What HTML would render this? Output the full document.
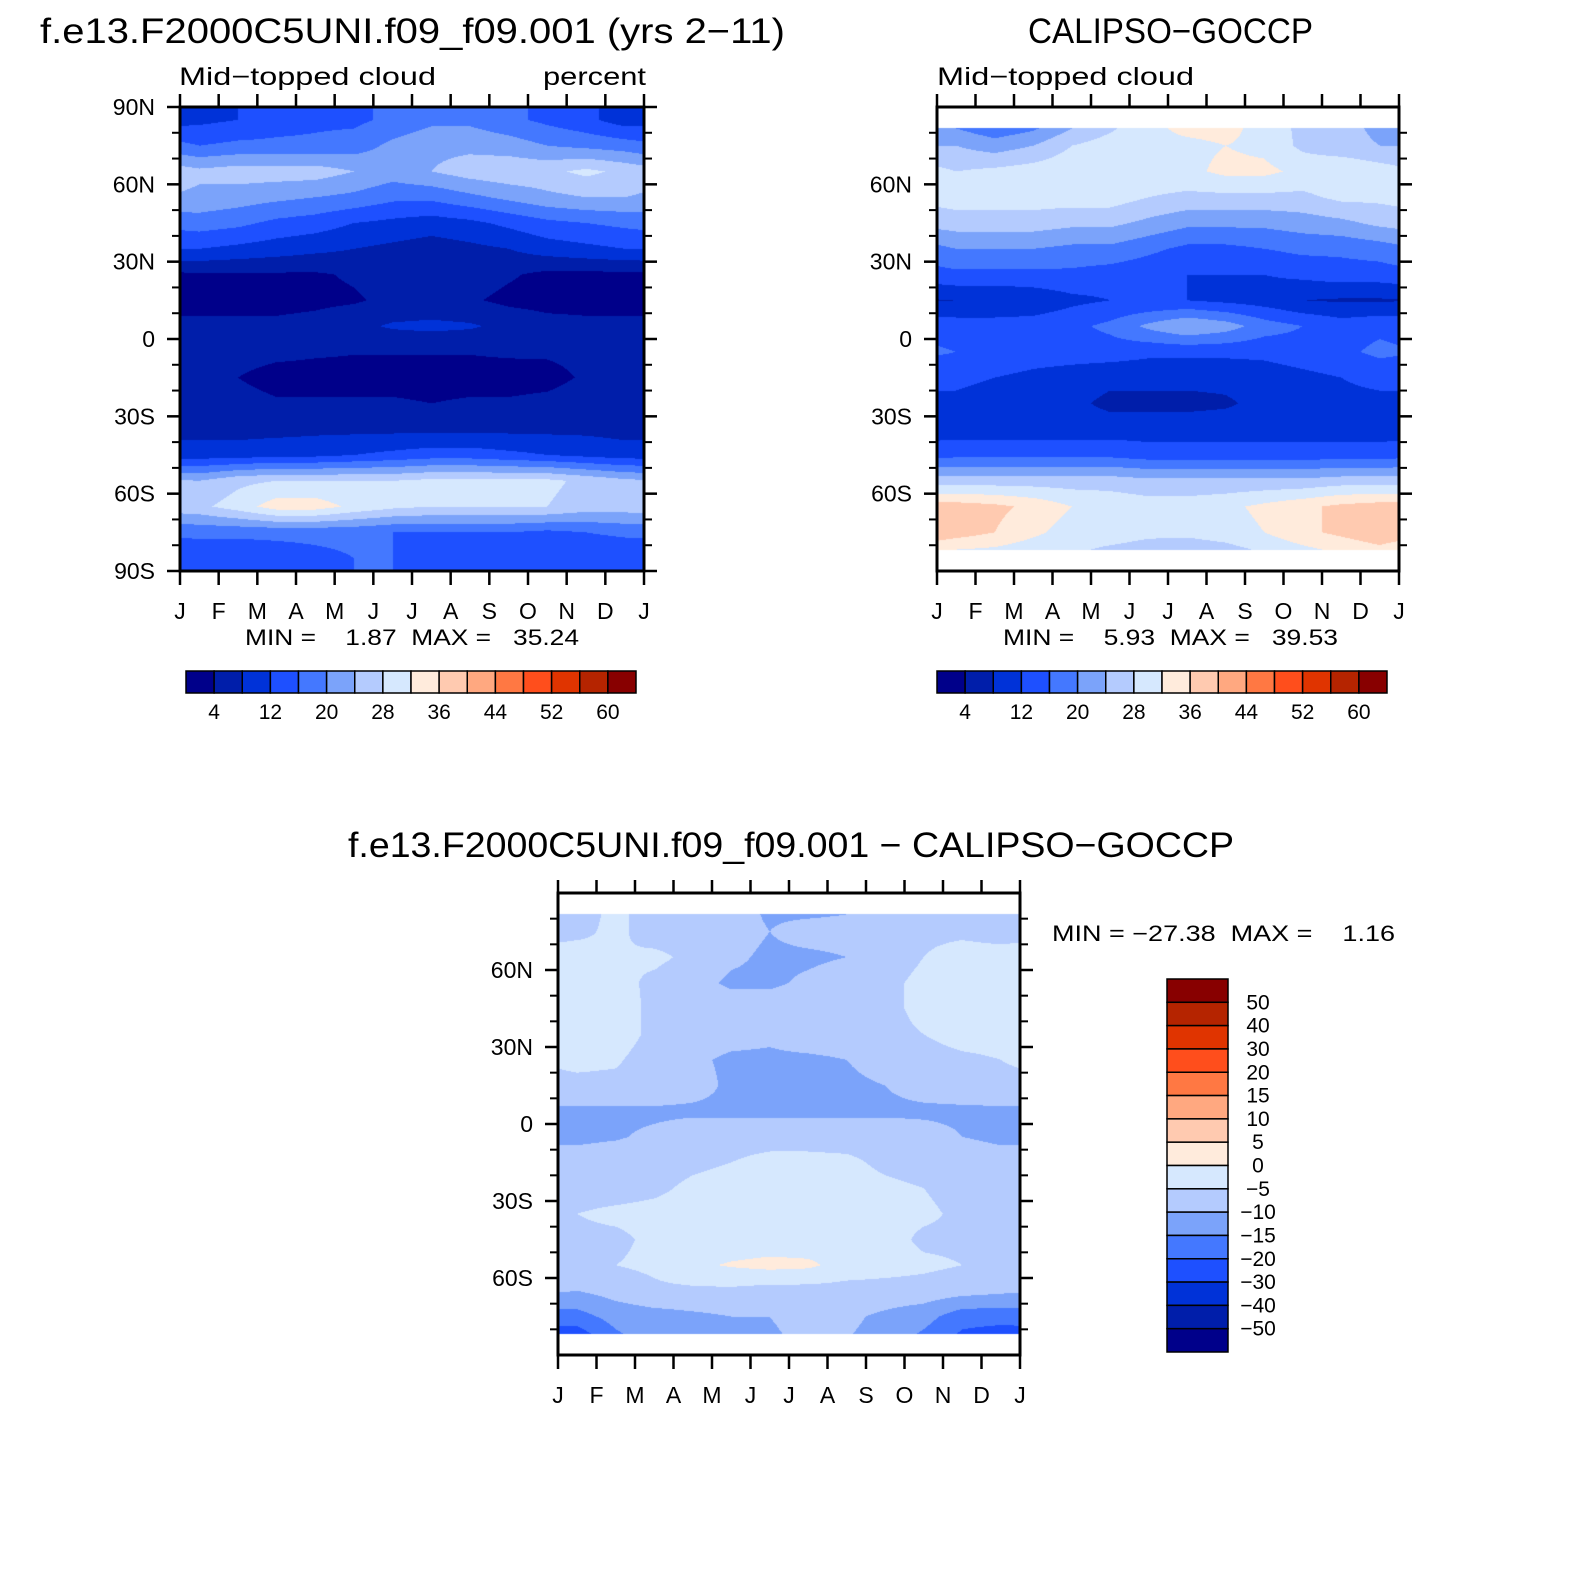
<!DOCTYPE html>
<html><head><meta charset="utf-8">
<style>
html,body{margin:0;padding:0;background:#fff;}
#wrap{position:relative;width:1580px;height:1580px;overflow:hidden;background:#fff;}
canvas{position:absolute;}
svg{position:absolute;left:0;top:0;}
text{font-family:"Liberation Sans",sans-serif;fill:#000;}
</style></head>
<body>
<div id="wrap">
<canvas id="c1"></canvas>
<canvas id="c2"></canvas>
<canvas id="c3"></canvas>
<svg id="ov" width="1580" height="1580">
<text x="40" y="43" font-size="35" textLength="745" lengthAdjust="spacingAndGlyphs">f.e13.F2000C5UNI.f09_f09.001 (yrs 2−11)</text>
<text x="179" y="85" font-size="25" textLength="257" lengthAdjust="spacingAndGlyphs">Mid−topped cloud</text>
<text x="543" y="85" font-size="25" textLength="103" lengthAdjust="spacingAndGlyphs">percent</text>
<text x="1028" y="43" font-size="35" textLength="285" lengthAdjust="spacingAndGlyphs">CALIPSO−GOCCP</text>
<text x="937" y="85" font-size="25" textLength="257" lengthAdjust="spacingAndGlyphs">Mid−topped cloud</text>
<text x="348" y="857" font-size="35" textLength="886" lengthAdjust="spacingAndGlyphs">f.e13.F2000C5UNI.f09_f09.001 − CALIPSO−GOCCP</text>
<text x="245" y="645" font-size="22" textLength="334" lengthAdjust="spacingAndGlyphs" xml:space="preserve">MIN =    1.87  MAX =   35.24</text>
<text x="1003" y="645" font-size="22" textLength="335" lengthAdjust="spacingAndGlyphs" xml:space="preserve">MIN =    5.93  MAX =   39.53</text>
<text x="1052" y="941" font-size="22" textLength="343" lengthAdjust="spacingAndGlyphs" xml:space="preserve">MIN = −27.38  MAX =    1.16</text>
</svg>
</div>
<script>
const months = ['J','F','M','A','M','J','J','A','S','O','N','D','J'];
const rowLats = [85,75,65,55,45,35,25,15,5,-5,-15,-25,-35,-45,-55,-65,-75,-85];
const absLevels = [4,8,12,16,20,24,28,32,36,40,44,48,52,56,60];
const absTickLabels = ['4','12','20','28','36','44','52','60'];
const diffLevels = [-50,-40,-30,-20,-15,-10,-5,0,5,10,15,20,30,40,50];
const diffTickLabels = ['50','40','30','20','15','10','5','0','−5','−10','−15','−20','−30','−40','−50'];
const palette = ['#00008A','#001EAA','#0032D8','#1E50FF','#4478FF','#7BA3FA','#B4CBFE','#D6E8FE','#FFEBDC','#FFCAB0','#FFA880','#FF7843','#FF4E1C','#E03400','#B52400','#880000'];

const modelValues = [
[11,12,14,15,15,17,19,19,17,15,13,10],
[16,17,17,17,18,21,23,23,22,20,19,18],
[25,26,26,26,24,22,24,26,27,27,29,27],
[23,22,21,20,19,17,17,19,21,23,24,24],
[18,17,15,14,12,11,10,11,13,15,16,17],
[12,11,10,9,8,7,6,7,8,10,11,12],
[3.5,3.5,3.5,3.5,4.5,6,6.5,6,4.5,3,3,3],
[2.5,2.5,2.5,3,3.5,5,5,4.5,3,2.5,2.5,2.5],
[5,5,5,5.5,7,8.5,9,8.5,7,5.5,5,5],
[5.5,5.5,5,4.5,4.2,4.2,4.2,4.2,4.5,4.5,5,5.5],
[4.5,4,2.5,2.5,2.5,2.5,2.5,2.5,2.5,2.8,4.5,5],
[6,5.5,4.5,4.5,4.5,4.5,4,4.5,4.5,5,6,6],
[6.5,6.5,6.5,7,7,7,7,7,7,7,7,6.5],
[10,10,11,11,12,13,14,14,13,12,11,10],
[24,27,28,28,28,28,29,29,29,29,27,25],
[27,30,34,34,31,29,28,28,28,28,26,26],
[17,17,17,17,17,16,16,16,16,15,16,17],
[13,13,14,15,16,16,15,14,13,12,12,12]
];
const obsValues = [
[18,15,17,22,26,31,34,34,30,27,25,23],
[24,22,24,28,30,31,31,32,31,27,25,24],
[28,29,30,31,31,31,31,33,33,31,32,30],
[30,30,30,30,30,28,27,27,27,27,29,29],
[26,26,26,25,25,23,21,21,21,22,23,25],
[20,20,20,19,19,17,15,15,16,17,17,18],
[15,15,15,15,14,13,12,12,12,13,14,14],
[8,8,9,11,12,12,12,11,10,8,7.5,7.5],
[14,14,14,15,17,21,24,22,18,16,14,15],
[16,15,14,14,14,13,13,13,13,14,15,17],
[13,12,11,10,9,9,9,9,10,11,12,13],
[11,10,10,9,7,7,7,7.5,9,10,11,11],
[10,10,10,10,10,10,10,10,10,10,10,10],
[15,15,15,15,15,14,14,14,14,14,14,14],
[26,26,26,26,26,25,25,25,25,25,26,26],
[38,37,35,32,31,30,30,31,33,35,37,38],
[38,36,33,30,30,29,29,30,32,35,37,39],
[29,29,28,28,26,25,24,25,27,29,31,33]
];
const diffValues = [
[-7,-4,-7,-7,-8,-11,-12,-11,-8,-7,-7,-9],
[-6,-4,-7,-7,-8,-10,-8,-8,-7,-6,-6,-7],
[-3,-5,-4,-6,-9,-11,-11,-10,-7,-5,-3,-3],
[-3,-3.5,-6,-8,-11,-11,-9,-7,-6,-4,-3,-3],
[-3,-3,-6,-7,-7,-7,-7,-7,-6,-4,-3,-3],
[-3,-3,-6,-7,-8,-9,-7,-7,-6,-5,-3,-3],
[-4,-4.5,-7,-9,-11,-11,-11,-10,-8,-7,-6,-5],
[-6,-6,-6,-8,-11,-11,-11,-11,-10,-8,-7,-6],
[-11,-11,-11,-11,-11,-11,-11,-11,-11,-11,-11,-11],
[-11,-10.5,-9,-7,-7,-7,-7,-7,-7,-8,-10,-11],
[-8,-7,-7,-6,-5,-3.5,-3.5,-4,-6,-7,-7,-8],
[-7,-7,-6,-4,-3,-3,-3,-3,-4,-5,-7,-7],
[-5,-4,-3.5,-3,-3,-3,-3,-3,-3.5,-4,-6,-6],
[-6,-6,-4,-3,-3,-3,-3,-3,-3,-6,-6,-6],
[-7,-5,-4,-1,0.5,1.5,1,-2,-3,-4,-5,-5],
[-10,-8,-6,-6,-6,-7,-7,-7,-7,-7,-8,-9],
[-17,-13,-12,-11,-10,-10,-8,-9,-11,-13,-18,-18],
[-25,-17,-12,-11,-11,-11,-9,-10,-12,-17,-22,-24]
];

const NS = 'http://www.w3.org/2000/svg';
const ov = document.getElementById('ov');
function mk(tag, attrs, parent){
  const e = document.createElementNS(NS, tag);
  for (const k in attrs) e.setAttribute(k, attrs[k]);
  (parent||ov).appendChild(e);
  return e;
}
function levelIndex(v, levels){ let i=0; while(i<levels.length && v>=levels[i]) i++; return i; }
function hexRgb(h){ return [parseInt(h.substr(1,2),16),parseInt(h.substr(3,2),16),parseInt(h.substr(5,2),16)]; }
const rgbPal = palette.map(hexRgb);

function sample(grid, lat, mf){
  let r = (rowLats[0]-lat)/10;
  if (r<0) r=0; if (r>rowLats.length-1) r=rowLats.length-1;
  const r0 = Math.min(Math.floor(r), rowLats.length-2), tr = r-r0;
  let c = mf*12-0.5;
  let c0 = Math.floor(c); const tc = c-c0;
  const ca = (c0+12)%12, cb = (c0+13)%12;
  const a = grid[r0][ca]*(1-tc)+grid[r0][cb]*tc;
  const b = grid[r0+1][ca]*(1-tc)+grid[r0+1][cb]*tc;
  return a*(1-tr)+b*tr;
}

function drawField(id, x0, y0, w, h, grid, levels, latLimit){
  const cv = document.getElementById(id);
  cv.width = w; cv.height = h;
  cv.style.left = x0+'px'; cv.style.top = y0+'px';
  const ctx = cv.getContext('2d');
  const img = ctx.createImageData(w, h);
  for (let py=0; py<h; py++){
    const lat = 90 - (py+0.5)/h*180;
    for (let px=0; px<w; px++){
      const o = (py*w+px)*4;
      if (Math.abs(lat) > latLimit){ img.data[o]=255;img.data[o+1]=255;img.data[o+2]=255;img.data[o+3]=255; continue; }
      const v = sample(grid, lat, (px+0.5)/w);
      const c = rgbPal[levelIndex(v, levels)];
      img.data[o]=c[0]; img.data[o+1]=c[1]; img.data[o+2]=c[2]; img.data[o+3]=255;
    }
  }
  ctx.putImageData(img, 0, 0);
}

function drawAxes(prefix, x0, y0, w, h, latLabels, minorRange){
  const g = mk('g', {});
  
  
  const yOf = lat => y0 + (90-lat)/180*h;
  for (let i=0;i<months.length;i++){
    const x = x0 + i*w/12;
    mk('line',{x1:x,y1:y0,x2:x,y2:y0-13,stroke:'#000','stroke-width':2.5},g);
    mk('line',{x1:x,y1:y0+h,x2:x,y2:y0+h+14,stroke:'#000','stroke-width':2.5},g);
    const t = mk('text',{x:x,y:y0+h+48,'font-size':23,'text-anchor':'middle'},g);
    t.textContent = months[i];
    
    
  }
  for (let lat=minorRange; lat>=-minorRange; lat-=10){
    if (lat%30===0) continue;
    const y = yOf(lat);
    mk('line',{x1:x0-8,y1:y,x2:x0,y2:y,stroke:'#000','stroke-width':2},g);
    mk('line',{x1:x0+w,y1:y,x2:x0+w+8,y2:y,stroke:'#000','stroke-width':2},g);
  }
  for (const [lat,lab] of latLabels){
    const y = yOf(lat);
    mk('line',{x1:x0-13,y1:y,x2:x0,y2:y,stroke:'#000','stroke-width':2.5},g);
    mk('line',{x1:x0+w,y1:y,x2:x0+w+13,y2:y,stroke:'#000','stroke-width':2.5},g);
    const t = mk('text',{x:x0-25,y:y+8,'font-size':23,'text-anchor':'end'},g);
    t.textContent = lab;
    
    
  }
  mk('rect',{x:x0,y:y0,width:w,height:h,fill:'none',stroke:'#000','stroke-width':3},g);
}

function drawHBar(prefix, x0, y0, w, h){
  const g = mk('g',{});
  
  
  const bw = w/palette.length;
  palette.forEach((c,i)=>{
    const r = mk('rect',{x:x0+i*bw,y:y0,width:bw,height:h,fill:c,stroke:'#000','stroke-width':1.5},g);
    
    
  });
  absTickLabels.forEach((lab,k)=>{
    const b = 1+2*k;
    const t = mk('text',{x:x0+b*bw,y:y0+h+26,'font-size':21,'text-anchor':'middle'},g);
    t.textContent = lab;
    
    
  });
}

function drawVBar(x0, y0, w, h){
  const g = mk('g',{});
  
  
  const bh = h/palette.length;
  for (let i=0;i<palette.length;i++){
    const r = mk('rect',{x:x0,y:y0+i*bh,width:w,height:bh,fill:palette[palette.length-1-i],stroke:'#000','stroke-width':1.5},g);
    
    
  }
  diffTickLabels.forEach((lab,k)=>{
    const t = mk('text',{x:x0+w+30,y:y0+(k+1)*bh+7,'font-size':21,'text-anchor':'middle'},g);
    t.textContent = lab;
    
    
  });
}

const P1 = {x:180,y:107,w:464,h:464};
const P2 = {x:937,y:107,w:462,h:464};
const P3 = {x:558,y:893,w:462,h:462};
drawField('c1',P1.x,P1.y,P1.w,P1.h,modelValues,absLevels,90);
drawField('c2',P2.x,P2.y,P2.w,P2.h,obsValues,absLevels,82);
drawField('c3',P3.x,P3.y,P3.w,P3.h,diffValues,diffLevels,82);
drawAxes('model',P1.x,P1.y,P1.w,P1.h,[[90,'90N'],[60,'60N'],[30,'30N'],[0,'0'],[-30,'30S'],[-60,'60S'],[-90,'90S']],90);
drawAxes('obs',P2.x,P2.y,P2.w,P2.h,[[60,'60N'],[30,'30N'],[0,'0'],[-30,'30S'],[-60,'60S']],80);
drawAxes('diff',P3.x,P3.y,P3.w,P3.h,[[60,'60N'],[30,'30N'],[0,'0'],[-30,'30S'],[-60,'60S']],80);
drawHBar('model',186,671,450,22);
drawHBar('obs',937,671,450,22);
drawVBar(1167,979,61,373);
</script>
</body></html>
